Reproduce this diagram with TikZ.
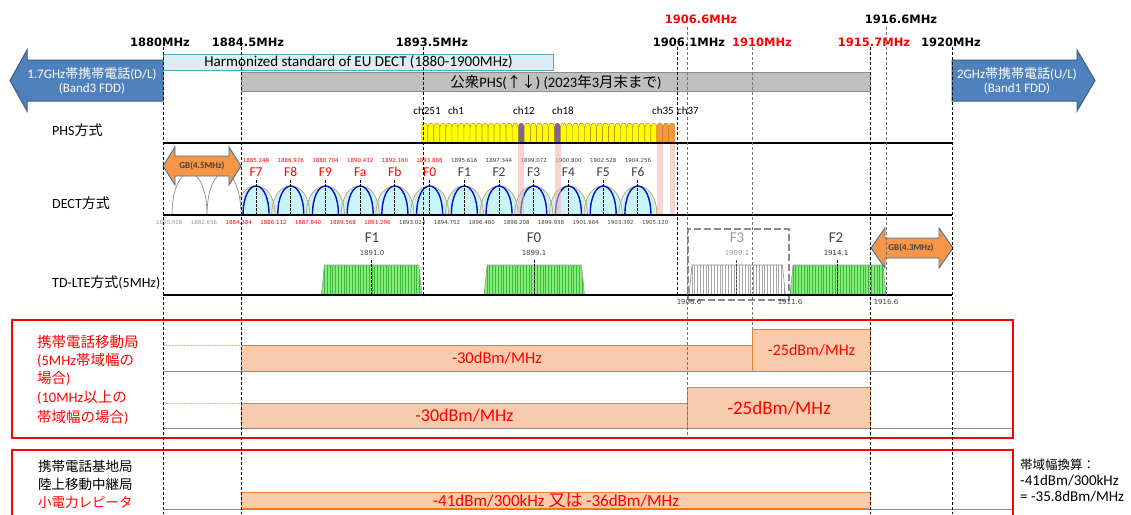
\documentclass[tikz,border=0pt]{standalone}
\usepackage{fontspec}
\setmainfont{Carlito}
\newfontfamily\jpfont{Noto Sans CJK JP}
\newfontfamily\dvs{DejaVu Sans}
\newcommand\J[1]{{\jpfont #1}}
\definecolor{arrowblue}{HTML}{4F81BD}
\definecolor{arrowblueb}{HTML}{385D8A}
\definecolor{gborange}{HTML}{F79646}
\definecolor{gbborder}{HTML}{41719C}
\definecolor{decbox}{HTML}{DAEEF3}
\definecolor{decboxb}{HTML}{4BACC6}
\definecolor{phsgray}{HTML}{BFBFBF}
\definecolor{phsgrayb}{HTML}{8C8C8C}
\definecolor{phsyellow}{HTML}{FFFF00}
\definecolor{phsgold}{HTML}{B08000}
\definecolor{phspurple}{HTML}{8064A2}
\definecolor{phsorange}{HTML}{F79646}
\definecolor{pinkstrip}{HTML}{F4B0B0}
\definecolor{dectfill}{HTML}{C8F6F8}
\definecolor{dectblue}{HTML}{0010CC}
\definecolor{decttan}{HTML}{D0A070}
\definecolor{ltegreen}{HTML}{86EC78}
\definecolor{ltestripe}{HTML}{3CB83C}
\definecolor{peach}{HTML}{F8CBAD}
\definecolor{peachb}{HTML}{ED7D31}
\definecolor{txtgray}{HTML}{404040}
\usetikzlibrary{calc}
\tikzset{
 flab/.style={font=\dvs\bfseries\fontsize{11.5}{13}\selectfont, inner sep=0pt},
 vdashk/.style={dash pattern=on 3pt off 2pt, line width=0.9pt},
 vdashg/.style={dash pattern=on 3pt off 2pt, line width=0.5pt, black!55},
 bluearr/.style={fill=arrowblue, draw=arrowblueb, line width=1pt},
 gbarr/.style={fill=gborange, draw=gbborder, line width=0.9pt},
 rowlab/.style={font=\fontsize{14}{15}\selectfont, anchor=west, inner sep=0pt},
 chlab/.style={font=\fontsize{11}{12}\selectfont, inner sep=0pt},
 tinynum/.style={font=\dvs\fontsize{5.5}{6}\selectfont, inner sep=0pt},
 flbl/.style={font=\fontsize{13.5}{14}\selectfont, inner sep=0pt},
 ltelbl/.style={font=\fontsize{15}{16}\selectfont, inner sep=0pt},
 ltenum/.style={font=\dvs\fontsize{7}{8}\selectfont, inner sep=0pt},
 pbar/.style={fill=peach, draw=peachb, line width=1pt, anchor=north west, inner sep=0pt, text=red},
 redbox/.style={draw=red, line width=2.5pt},
 sepline/.style={draw=black!45, line width=0.8pt},
 dotl/.style={draw=peachb!60, dash pattern=on 1.5pt off 1.5pt, line width=0.6pt},
 boxtxt/.style={font=\fontsize{14.5}{16}\selectfont, anchor=west, inner sep=0pt},
 axisline/.style={line width=1.2pt},
 wtxt/.style={font=\fontsize{13}{14}\selectfont, text=white, inner sep=0pt},
}
\newcommand\lteblk[5]{%
 \begin{scope}
  \clip (#1,295) -- ({#1+3},265) -- ({#2-3},265) -- (#2,295) -- cycle;
  \fill[#3] (#1,260) rectangle (#2,300);
  \foreach \s in {0,2.8,...,106} \draw[#4, line width=0.45pt] ({#1+\s},264) -- ({#1+\s},296);
 \end{scope}
 \draw[#5, line width=0.6pt] (#1,295) -- ({#1+3},265) -- ({#2-3},265) -- (#2,295);
}
\begin{document}
\begin{tikzpicture}[x=1pt,y=-1pt, declare function={fx(\q)=241+(\q-1884.5)*20.09;}]
\useasboundingbox[fill=white] (0,0) rectangle (1131,514);

% ---------- blue band arrows ----------
\path[bluearr] (163,60) -- (27,60) -- (27,50) -- (10,80.5) -- (27,111) -- (27,101) -- (163,101) -- cycle;
\node[wtxt] (la1) at (92,74) {1.7GHz\J{帯携帯電話}(D/L)};
\node[wtxt] (la2) at (92,89) {(Band3 FDD)};
\path[bluearr] (952,60) -- (1077,60) -- (1077,50) -- (1095,80.5) -- (1077,111) -- (1077,101) -- (952,101) -- cycle;
\node[wtxt] (ra1) at (1017,74) {2GHz\J{帯携帯電話}(U/L)};
\node[wtxt] (ra2) at (1017,89) {(Band1 FDD)};

% ---------- top bars ----------
\node[fill=decbox, draw=decboxb, line width=1pt, anchor=north west, minimum width=390pt, minimum height=16pt, inner sep=0pt, font=\fontsize{15}{16}\selectfont] (eu) at (163,54) {Harmonized standard of EU DECT (1880-1900MHz)};
\node[fill=phsgray, draw=phsgrayb, line width=0.8pt, anchor=north west, minimum width=629pt, minimum height=19pt, inner sep=0pt, font=\fontsize{14.5}{15}\selectfont] (phsbar) at (241,72) {\J{公衆}PHS(\J{↑↓}) (2023\J{年}3\J{月末まで})};

% ---------- frequency labels ----------
\node[flab] (l1880) at (160,42) {1880MHz};
\node[flab] (l18845) at (248,42) {1884.5MHz};
\node[flab] (l18935) at (432,42) {1893.5MHz};
\node[flab] (l19061) at (689,42) {1906.1MHz};
\node[flab,text=red] (l1910) at (762,42) {1910MHz};
\node[flab,text=red] (l19157) at (874,42) {1915.7MHz};
\node[flab] (l1920) at (951,42) {1920MHz};
\node[flab,text=red] (l19066) at (701,19) {1906.6MHz};
\node[flab] (l19166) at (901,19) {1916.6MHz};

% ---------- row labels ----------
\node[rowlab] (phsl) at (52,130) {PHS\J{方式}};
\node[rowlab] (dectl) at (52,203) {DECT\J{方式}};
\node[rowlab] (ltel) at (52,283) {TD-LTE\J{方式}(5MHz)};

% ---------- PHS channels ----------
\foreach \i in {0,...,41}{
  \pgfmathsetmacro\xa{fx(1893.5)+\i*6.027}
  \pgfmathsetmacro\xb{\xa+6.027}
  \def\pc{phsyellow}
  \ifnum\i=16 \def\pc{phspurple}\fi
  \ifnum\i=22 \def\pc{phspurple}\fi
  \ifnum\i>38 \def\pc{phsorange}\fi
  \path[fill=\pc, draw=phsgold, line width=0.4pt] (\xa,143) -- (\xa,127.5) .. controls (\xa,121.5) and (\xb,121.5) .. (\xb,127.5) -- (\xb,143);
}
\node[chlab] (ch251) at (427,111) {ch251};
\node[chlab] (ch1) at (456,111) {ch1};
\node[chlab] (ch12) at (524,111) {ch12};
\node[chlab] (ch18) at (563,111) {ch18};
\node[chlab] (ch35) at (663,111) {ch35};
\node[chlab] (ch37) at (688,111) {ch37};

% ---------- DECT carriers ----------
\def\dectlist{1885.248/F7/red, 1886.976/F8/red, 1888.704/F9/red, 1890.432/Fa/red, 1892.160/Fb/red, 1893.888/F0/red, 1895.616/F1/txtgray, 1897.344/F2/txtgray, 1899.072/F3/txtgray, 1900.800/F4/txtgray, 1902.528/F5/txtgray, 1904.256/F6/txtgray}
\foreach \f/\lab/\col in \dectlist {
  \pgfmathsetmacro\c{fx(\f)}
  \fill[dectfill] (\c-19,215) .. controls (\c-19,196) and (\c-10,186) .. (\c,186) .. controls (\c+10,186) and (\c+19,196) .. (\c+19,215) -- cycle;
}
\foreach \f/\lab/\col in \dectlist {
  \pgfmathsetmacro\c{fx(\f)}
  \draw[decttan, line width=0.8pt] (\c-19,215) .. controls (\c-19,196) and (\c-10,186) .. (\c,186) .. controls (\c+10,186) and (\c+19,196) .. (\c+19,215);
}
\foreach \f/\lab/\col [count=\k] in \dectlist {
  \pgfmathsetmacro\c{fx(\f)}
  \draw[dectblue, line width=1.4pt] (\c-13,215) .. controls (\c-13,197) and (\c-7,186) .. (\c,186) .. controls (\c+7,186) and (\c+13,197) .. (\c+13,215);
  \draw[dash pattern=on 2.5pt off 1.5pt, line width=0.9pt] (\c,180) -- (\c,215);
  \node[flbl, text=\col] (fl\k) at (\c,172) {\lab};
  \node[tinynum, text=\col] (ft\k) at (\c,160) {\f};
}
% gray guard-band carriers
\draw[black!45, fill=white, line width=0.7pt] (172,215) .. controls (172,190) and (180,173) .. (189.5,173) .. controls (199,173) and (207,190) .. (207,215);
\draw[black!45, fill=white, line width=0.7pt] (207,215) .. controls (207,190) and (215,173) .. (224,173) .. controls (233,173) and (241,190) .. (241,215);
% edge frequencies
\foreach \f/\col [count=\k] in {1880.928/black!40, 1882.656/black!40, 1884.384/red, 1886.112/red, 1887.840/red, 1889.568/red, 1891.296/red, 1893.024/txtgray, 1894.752/txtgray, 1896.480/txtgray, 1898.208/txtgray, 1899.936/txtgray, 1901.664/txtgray, 1903.392/txtgray, 1905.120/txtgray}{
  \pgfmathsetmacro\c{fx(\f)}
  \node[tinynum, text=\col] (ed\k) at (\c,222) {\f};
}
% pink strips
\foreach \xa/\xb in {518/524, 554.5/560.5, 657/663, 669.5/675}{
  \fill[pinkstrip, opacity=0.55] (\xa,143) rectangle (\xb,215);
}
% GB 4.5
\path[gbarr] (163,166) -- (175,147) -- (175,156) -- (229,156) -- (229,147) -- (241,166) -- (229,185) -- (229,176) -- (175,176) -- (175,185) -- cycle;
\node[font=\bfseries\fontsize{9}{10}\selectfont, text=txtgray, inner sep=0pt] (gb45) at (202,166) {GB(4.5MHz)};

% ---------- TD-LTE ----------
\lteblk{321.4}{421.8}{ltegreen}{ltestripe}{black!40}
\lteblk{484.1}{584.5}{ltegreen}{ltestripe}{black!40}
\lteblk{689}{785.4}{white}{black!35}{black!45}
\lteblk{790}{886}{ltegreen}{ltestripe}{black!40}
\foreach \c/\col in {371.6/black, 534.3/black, 736/black!70, 837/black}{
  \draw[\col, dash pattern=on 2.5pt off 1.5pt, line width=1pt] (\c,260) -- (\c,295);
}
\node[ltelbl, text=txtgray] (lf1) at (372,238) {F1};
\node[ltenum, text=txtgray] (lf1n) at (372,253) {1891.0};
\node[ltelbl, text=txtgray] (lf0) at (534,238) {F0};
\node[ltenum, text=txtgray] (lf0n) at (534,253) {1899.1};
\node[ltelbl, text=black!40] (lf3) at (737,238) {F3};
\node[ltenum, text=black!40] (lf3n) at (737,253) {1909.1};
\node[ltelbl, text=txtgray] (lf2) at (836,238) {F2};
\node[ltenum, text=black!80] (lf2n) at (836,253) {1914.1};
\node[draw=black!45, dash pattern=on 7pt off 3pt, line width=2.2pt, anchor=north west, minimum width=101pt, minimum height=71pt, inner sep=0pt] (f3box) at (687,228) {};
\node[ltenum, text=txtgray] (b19066) at (689,302) {1906.6};
\node[ltenum, text=txtgray] (b19116) at (790,302) {1911.6};
\node[ltenum, text=txtgray] (b19166) at (886,302) {1916.6};

% ---------- row axes ----------
\draw[axisline] (163,143) -- (952,143);
\draw[axisline] (163,215) -- (952,215);
\draw[axisline] (163,295) -- (952,295);

% GB 4.3
\path[gbarr] (871,248) -- (885,228) -- (885,238) -- (939,238) -- (939,228) -- (953,248) -- (939,268) -- (939,258) -- (885,258) -- (885,268) -- cycle;
\node[font=\bfseries\fontsize{9}{10}\selectfont, text=txtgray, inner sep=0pt] (gb43) at (911,248) {GB(4.3MHz)};

% ---------- mobile station box ----------
\draw[dotl] (163,345) -- (241,345);
\draw[dotl] (163,403) -- (241,403);
\node[pbar, minimum width=511pt, minimum height=26pt, font=\fontsize{16.5}{17}\selectfont] (p1a) at (241,345) {-30dBm/MHz};
\node[pbar, minimum width=118pt, minimum height=42pt, font=\fontsize{16}{17}\selectfont] (p1b) at (752,329) {-25dBm/MHz};
\node[pbar, minimum width=446pt, minimum height=25pt, font=\fontsize{18}{19}\selectfont] (p2a) at (241,403) {-30dBm/MHz};
\node[pbar, minimum width=183pt, minimum height=41pt, font=\fontsize{19}{20}\selectfont] (p2b) at (687,387) {-25dBm/MHz};
\draw[sepline] (163,371) -- (1013,371);
\draw[sepline] (163,428) -- (1013,428);
\draw[redbox] (12,320) rectangle (1013,438);
\node[boxtxt, text=red] (m1) at (37,342) {\J{携帯電話移動局}};
\node[boxtxt, text=red] (m2) at (37,360) {(5MHz\J{帯域幅の}};
\node[boxtxt, text=red] (m3) at (37,378) {\J{場合})};
\node[boxtxt, text=red] (m4) at (37,398) {(10MHz\J{以上の}};
\node[boxtxt, text=red] (m5) at (37,417) {\J{帯域幅の場合})};

% ---------- base station box ----------
\node[pbar, minimum width=629pt, minimum height=16pt, font=\fontsize{17}{17}\selectfont] (p3) at (241,492) {-41dBm/300kHz \J{又は} -36dBm/MHz};
\draw[sepline] (163,509) -- (1013,509);
\draw[redbox] (12,518) -- (12,450) -- (1013,450) -- (1013,518);
\node[boxtxt, font=\fontsize{13.5}{15}\selectfont] (s1) at (38,466) {\J{携帯電話基地局}};
\node[boxtxt, font=\fontsize{13.5}{15}\selectfont] (s2) at (38,484) {\J{陸上移動中継局}};
\node[boxtxt, font=\fontsize{13.5}{15}\selectfont, text=red] (s3) at (38,502) {\J{小電力レピータ}};
\node[boxtxt, font=\fontsize{12.5}{13}\selectfont] (n1) at (1020,465) {\J{帯域幅換算：}};
\node[boxtxt, font=\fontsize{15}{16}\selectfont] (n2) at (1020,481) {-41dBm/300kHz};
\node[boxtxt, font=\fontsize{15}{16}\selectfont] (n3) at (1020,497) {= -35.8dBm/MHz};

% ---------- vertical dashed frequency lines ----------
\coordinate (t1880) at (163,47);   \coordinate (b1880) at (163,514);
\coordinate (t18845) at (241,47);  \coordinate (b18845) at (241,514);
\coordinate (t18935) at (423,47);  \coordinate (b18935) at (423,297);
\coordinate (t19061) at (677,47);  \coordinate (b19061) at (677,297);
\coordinate (t19066) at (687,27);  \coordinate (b19066) at (687,438);
\coordinate (t1910) at (752,47);   \coordinate (b1910) at (752,329);
\coordinate (t19157) at (870,47);  \coordinate (b19157) at (870,514);
\coordinate (t19166) at (886,27);  \coordinate (b19166) at (886,297);
\coordinate (t1920) at (952,47);   \coordinate (b1920) at (952,514);
\draw[vdashk] (t1880) -- (b1880);
\draw[vdashk] (t18845) -- (b18845);
\draw[vdashk] (t18935) -- (b18935);
\draw[vdashk] (t19061) -- (b19061);
\draw[vdashg] (t19066) -- (b19066);
\draw[vdashg] (t1910) -- (b1910);
\draw[vdashk] (t19157) -- (b19157);
\draw[vdashg] (t19166) -- (b19166);
\draw[vdashk] (t1920) -- (b1920);
\end{tikzpicture}
\end{document}
